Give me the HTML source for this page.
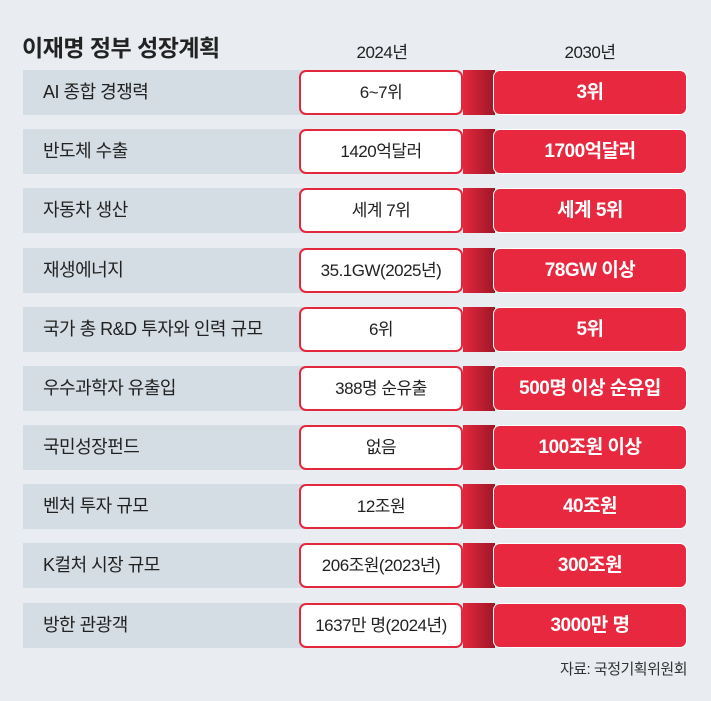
<!DOCTYPE html>
<html><head><meta charset="utf-8"><style>
*{margin:0;padding:0;box-sizing:border-box}
body{width:711px;height:701px;background:#e9edf1;font-family:"Liberation Sans","Noto Sans CJK KR",sans-serif;position:relative;overflow:hidden;letter-spacing:-0.5px}
.t{position:absolute;left:22px;top:29px;font-size:23px;font-weight:bold;color:#222}
.h{position:absolute;top:38px;font-size:17px;color:#222;width:160px;text-align:center}
.row{position:absolute;left:23px;height:45px;width:664px}
.band{position:absolute;left:0;top:0;width:290px;height:45px;background:#d4dde4}
.lab{position:absolute;left:20px;top:0;line-height:45px;font-size:18px;color:#222}
.w{position:absolute;left:276px;top:0;width:164px;height:45px;background:#fff;border:2px solid #e3283e;border-radius:7px;text-align:center;line-height:41px;font-size:17px;color:#222}
.c{position:absolute;left:440px;top:0;width:32px;height:45px;background:linear-gradient(to right,#e3283e,#9e1626)}
.r{position:absolute;left:470px;top:0;width:194px;height:45px;background:#e8283f;border:1.5px solid #fff;border-radius:7px;text-align:center;line-height:44px;font-size:19px;font-weight:bold;color:#fff}
.s{position:absolute;right:24px;top:658px;font-size:15px;color:#333}
</style></head><body>
<div class="t">이재명 정부 성장계획</div>
<div class="h" style="left:302px">2024년</div>
<div class="h" style="left:510px">2030년</div>

<div class="row" style="top:70px"><div class="band"></div><div class="lab">AI 종합 경쟁력</div><div class="c"></div><div class="w">6~7위</div><div class="r">3위</div></div>
<div class="row" style="top:129px"><div class="band"></div><div class="lab">반도체 수출</div><div class="c"></div><div class="w">1420억달러</div><div class="r">1700억달러</div></div>
<div class="row" style="top:188px"><div class="band"></div><div class="lab">자동차 생산</div><div class="c"></div><div class="w">세계 7위</div><div class="r">세계 5위</div></div>
<div class="row" style="top:248px"><div class="band"></div><div class="lab">재생에너지</div><div class="c"></div><div class="w">35.1GW(2025년)</div><div class="r">78GW 이상</div></div>
<div class="row" style="top:307px"><div class="band"></div><div class="lab">국가 총 R&amp;D 투자와 인력 규모</div><div class="c"></div><div class="w">6위</div><div class="r">5위</div></div>
<div class="row" style="top:366px"><div class="band"></div><div class="lab">우수과학자 유출입</div><div class="c"></div><div class="w">388명 순유출</div><div class="r">500명 이상 순유입</div></div>
<div class="row" style="top:425px"><div class="band"></div><div class="lab">국민성장펀드</div><div class="c"></div><div class="w">없음</div><div class="r">100조원 이상</div></div>
<div class="row" style="top:484px"><div class="band"></div><div class="lab">벤처 투자 규모</div><div class="c"></div><div class="w">12조원</div><div class="r">40조원</div></div>
<div class="row" style="top:543px"><div class="band"></div><div class="lab">K컬처 시장 규모</div><div class="c"></div><div class="w">206조원(2023년)</div><div class="r">300조원</div></div>
<div class="row" style="top:603px"><div class="band"></div><div class="lab">방한 관광객</div><div class="c"></div><div class="w">1637만 명(2024년)</div><div class="r">3000만 명</div></div>

<div class="s">자료: 국정기획위원회</div>
</body></html>
